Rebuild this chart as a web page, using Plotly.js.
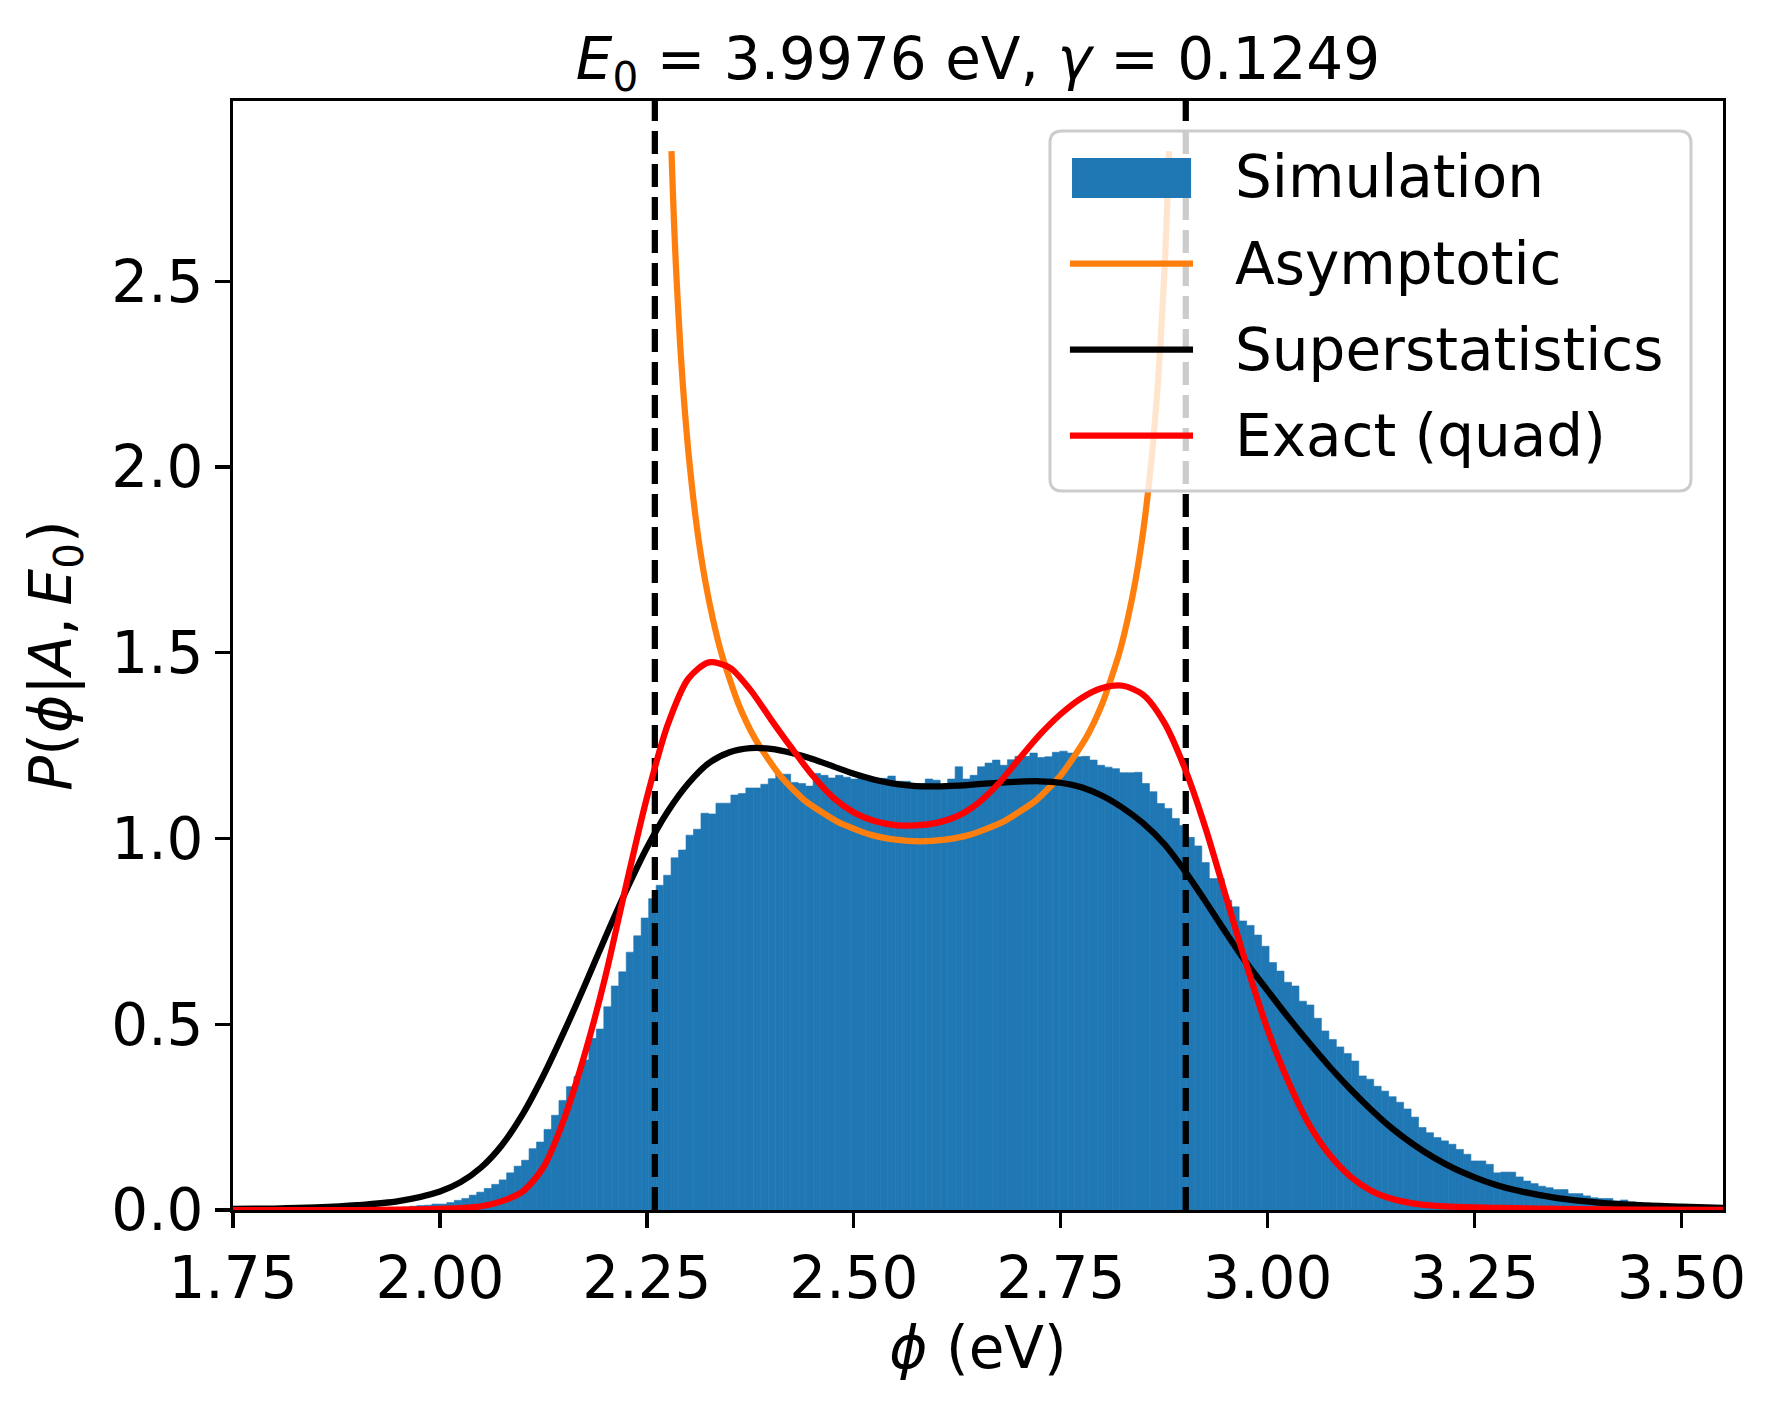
<!DOCTYPE html>
<html>
<head>
<meta charset="utf-8">
<script src="https://cdn.plot.ly/plotly-3.0.1.min.js"></script>
<style>
  html, body { margin: 0; padding: 0; background: #fff; }
  #chart { width: 1773px; height: 1403px; }
</style>
</head>
<body>
<div id="chart"></div>
<script>
// histogram of the simulation (density per bin)
var binStart = 1.9090;
var binWidth = 0.00903;
var simDensity = [
  0.002, 0.003, 0.004, 0.005, 0.006, 0.008, 0.010, 0.012, 0.013, 0.016,
  0.016, 0.020, 0.026, 0.031, 0.040, 0.048, 0.058, 0.069, 0.081, 0.100,
  0.118, 0.134, 0.165, 0.183, 0.217, 0.255, 0.295, 0.332, 0.359, 0.404,
  0.462, 0.487, 0.547, 0.603, 0.641, 0.694, 0.738, 0.786, 0.838, 0.874,
  0.901, 0.948, 0.969, 1.009, 1.025, 1.068, 1.066, 1.095, 1.095, 1.117,
  1.121, 1.136, 1.136, 1.146, 1.161, 1.173, 1.173, 1.151, 1.148, 1.141,
  1.175, 1.170, 1.163, 1.170, 1.165, 1.160, 1.165, 1.155, 1.160, 1.162,
  1.168, 1.154, 1.154, 1.148, 1.148, 1.160, 1.157, 1.146, 1.160, 1.193,
  1.160, 1.170, 1.193, 1.203, 1.211, 1.197, 1.212, 1.221, 1.221, 1.230,
  1.218, 1.220, 1.232, 1.235, 1.230, 1.220, 1.221, 1.211, 1.197, 1.192,
  1.188, 1.177, 1.177, 1.178, 1.148, 1.126, 1.094, 1.081, 1.054, 1.035,
  1.003, 0.980, 0.935, 0.892, 0.892, 0.834, 0.816, 0.778, 0.766, 0.740,
  0.710, 0.666, 0.643, 0.613, 0.603, 0.562, 0.552, 0.516, 0.482, 0.459,
  0.439, 0.421, 0.401, 0.361, 0.352, 0.333, 0.320, 0.305, 0.290, 0.272,
  0.250, 0.222, 0.208, 0.195, 0.186, 0.177, 0.163, 0.150, 0.132, 0.132,
  0.123, 0.100, 0.102, 0.102, 0.089, 0.078, 0.071, 0.064, 0.060, 0.055,
  0.055, 0.044, 0.044, 0.038, 0.033, 0.031, 0.031, 0.024, 0.027, 0.022,
  0.019, 0.019, 0.015, 0.013, 0.013, 0.011, 0.011, 0.008, 0.008, 0.006,
  0.005, 0.004, 0.003
];

// asymptotic (orange)
var asymX = [2.2797, 2.2813, 2.2833, 2.2853, 2.2903, 2.2953, 2.3003, 2.3103, 2.3203, 2.3303,
             2.3403, 2.3603, 2.3803, 2.4103, 2.4403, 2.4803, 2.5203, 2.5503, 2.5803,
             2.6103, 2.6403, 2.6803, 2.7203, 2.7503, 2.7803, 2.8003, 2.8203, 2.8303,
             2.8403, 2.8503, 2.8603, 2.8653, 2.8703, 2.8753, 2.8773, 2.8793, 2.8809];
var asymY = [2.850, 2.745, 2.631, 2.530, 2.325, 2.165, 2.036, 1.839, 1.695, 1.585,
             1.496, 1.364, 1.270, 1.171, 1.103, 1.045, 1.010, 0.997, 0.9925,
             0.997, 1.010, 1.045, 1.103, 1.171, 1.270, 1.364, 1.496, 1.585,
             1.695, 1.839, 2.036, 2.165, 2.325, 2.530, 2.631, 2.745, 2.850];

// superstatistics (black)
var superX = [1.75, 1.80, 1.85, 1.90, 1.95, 2.00, 2.025, 2.05, 2.075, 2.10,
              2.125, 2.15, 2.175, 2.20, 2.225, 2.25, 2.275, 2.30, 2.325, 2.35,
              2.375, 2.40, 2.425, 2.45, 2.475, 2.50, 2.525, 2.55, 2.575, 2.60,
              2.625, 2.65, 2.675, 2.70, 2.725, 2.75, 2.775, 2.80, 2.825, 2.85,
              2.875, 2.90, 2.925, 2.95, 2.975, 3.00, 3.025, 3.05, 3.075, 3.10,
              3.125, 3.15, 3.175, 3.20, 3.225, 3.25, 3.275, 3.30, 3.35, 3.40,
              3.45, 3.50, 3.55];
var superY = [0.003, 0.004, 0.007, 0.013, 0.024, 0.050, 0.075, 0.115, 0.175, 0.258,
              0.362, 0.480, 0.605, 0.735, 0.860, 0.975, 1.072, 1.148, 1.203, 1.232,
              1.243, 1.241, 1.230, 1.214, 1.194, 1.174, 1.158, 1.147, 1.141, 1.140,
              1.142, 1.146, 1.150, 1.153, 1.154, 1.150, 1.138, 1.115, 1.082, 1.040,
              0.985, 0.912, 0.830, 0.745, 0.663, 0.590, 0.518, 0.450, 0.385, 0.325,
              0.270, 0.220, 0.178, 0.142, 0.112, 0.088, 0.068, 0.053, 0.032, 0.020,
              0.013, 0.009, 0.006];

// exact quadrature (red)
var exactX = [1.75, 1.80, 1.85, 1.90, 1.95, 2.00, 2.025, 2.05, 2.075, 2.10,
              2.125, 2.15, 2.175, 2.20, 2.225, 2.25, 2.275, 2.30, 2.325, 2.35,
              2.375, 2.40, 2.425, 2.45, 2.475, 2.50, 2.525, 2.55, 2.575, 2.60,
              2.625, 2.65, 2.675, 2.70, 2.725, 2.75, 2.775, 2.80, 2.825, 2.85,
              2.875, 2.90, 2.925, 2.95, 2.975, 3.00, 3.025, 3.05, 3.075, 3.10,
              3.125, 3.15, 3.175, 3.20, 3.25, 3.30, 3.35, 3.45, 3.55];
var exactY = [0.000, 0.000, 0.000, 0.000, 0.001, 0.003, 0.005, 0.010, 0.024, 0.050,
              0.115, 0.245, 0.420, 0.630, 0.875, 1.110, 1.305, 1.430, 1.474, 1.460,
              1.400, 1.320, 1.243, 1.170, 1.110, 1.070, 1.047, 1.036, 1.035, 1.042,
              1.060, 1.095, 1.148, 1.215, 1.280, 1.335, 1.378, 1.405, 1.411, 1.386,
              1.312, 1.188, 1.027, 0.840, 0.655, 0.485, 0.345, 0.230, 0.148, 0.090,
              0.052, 0.030, 0.018, 0.012, 0.007, 0.005, 0.003, 0.001, 0.000];

// support bounds (dashed)
var boundX = [2.2596, 2.9010];

var xTicks = [1.75, 2.00, 2.25, 2.50, 2.75, 3.00, 3.25, 3.50];
var yTicks = [0.0, 0.5, 1.0, 1.5, 2.0, 2.5];
var xRange = [1.75, 3.55];
var yRange = [0, 2.985];

var legendNames = ["Simulation", "Asymptotic", "Superstatistics", "Exact (quad)"];
var legendColors = ["#1f77b4", "#ff7f0e", "#000000", "#ff0000"];

var FONT = "DejaVu Sans, sans-serif";
var FS = 58;

var binCenters = simDensity.map(function (_, i) { return binStart + (i + 0.5) * binWidth; });

var traces = [
  {
    type: "bar", x: binCenters, y: simDensity, width: binWidth,
    marker: { color: "#1f77b4", line: { width: 0.6, color: "#1f77b4" } },
    showlegend: false
  }
];
boundX.forEach(function (b) {
  traces.push({
    type: "scatter", mode: "lines", x: [b, b], y: yRange,
    line: { color: "#000000", width: 6.25, dash: "23px,10px" },
    showlegend: false
  });
});
traces.push({
  type: "scatter", mode: "lines", x: asymX, y: asymY,
  line: { color: "#ff7f0e", width: 6.25, shape: "spline", smoothing: 0.6 },
  showlegend: false
});
traces.push({
  type: "scatter", mode: "lines", x: superX, y: superY,
  line: { color: "#000000", width: 6.25, shape: "spline", smoothing: 0.8 },
  showlegend: false
});
traces.push({
  type: "scatter", mode: "lines", x: exactX, y: exactY,
  line: { color: "#ff0000", width: 6.25, shape: "spline", smoothing: 0.8 },
  showlegend: false
});

// legend drawn by hand (matplotlib look)
var lx0 = 0.5483, lx1 = 0.9785, ly0 = 0.6483, ly1 = 0.9730, rx = 0.0081, ry = 0.0108;
var boxPath = "M" + (lx0 + rx) + "," + ly1 + " L" + (lx1 - rx) + "," + ly1 +
  " Q" + lx1 + "," + ly1 + " " + lx1 + "," + (ly1 - ry) +
  " L" + lx1 + "," + (ly0 + ry) +
  " Q" + lx1 + "," + ly0 + " " + (lx1 - rx) + "," + ly0 +
  " L" + (lx0 + rx) + "," + ly0 +
  " Q" + lx0 + "," + ly0 + " " + lx0 + "," + (ly0 + ry) +
  " L" + lx0 + "," + (ly1 - ry) +
  " Q" + lx0 + "," + ly1 + " " + (lx0 + rx) + "," + ly1 + " Z";

var rowY = [0.9312, 0.8533, 0.7757, 0.6982];
var shapes = [
  { type: "path", xref: "paper", yref: "paper", path: boxPath,
    fillcolor: "rgba(255,255,255,0.8)", line: { color: "#cccccc", width: 3 }, layer: "above" },
  { type: "rect", xref: "paper", yref: "paper", x0: 0.5631, x1: 0.6430, y0: 0.9125, y1: 0.9486,
    fillcolor: legendColors[0], line: { width: 0 }, layer: "above" }
];
for (var i = 1; i < 4; i++) {
  shapes.push({ type: "line", xref: "paper", yref: "paper", x0: 0.5617, x1: 0.6443,
    y0: rowY[i], y1: rowY[i], line: { color: legendColors[i], width: 6.25 }, layer: "above" });
}
var annotations = legendNames.map(function (name, i) {
  return { xref: "paper", yref: "paper", x: 0.671, y: rowY[i], xanchor: "left", yanchor: "middle",
    text: name, showarrow: false, font: { family: FONT, size: FS, color: "#000" } };
});

var axisCommon = {
  showgrid: false, zeroline: false, showline: true, mirror: true,
  linecolor: "#000", linewidth: 3.3, ticks: "outside", ticklen: 14.6, tickwidth: 3.3,
  tickcolor: "#000", tickfont: { family: FONT, size: FS, color: "#000" }
};

var layout = {
  width: 1773, height: 1403,
  margin: { l: 233, r: 50, t: 101, b: 193, pad: 0 },
  paper_bgcolor: "#fff", plot_bgcolor: "#fff",
  bargap: 0, showlegend: false,
  font: { family: FONT, size: FS, color: "#000" },
  title: {
    text: "<i>E</i><sub>0</sub> = 3.9976 eV, <i>γ</i> = 0.1249",
    font: { family: FONT, size: FS, color: "#000" },
    x: 0.5, xref: "paper", xanchor: "center",
    y: 0.958, yref: "container", yanchor: "middle"
  },
  xaxis: Object.assign({}, axisCommon, {
    range: xRange, tickvals: xTicks, ticktext: xTicks.map(function (v) { return v.toFixed(2); }),
    title: { text: "<i>ϕ</i> (eV)", font: { family: FONT, size: FS, color: "#000" }, standoff: 18 }
  }),
  yaxis: Object.assign({}, axisCommon, {
    range: yRange, tickvals: yTicks, ticktext: yTicks.map(function (v) { return v.toFixed(1); }),
    title: { text: "<i>P</i>(<i>ϕ</i>|<i>A</i>,&#8201;<i>E</i><sub>0</sub>)", font: { family: FONT, size: FS, color: "#000" }, standoff: 22 }
  }),
  shapes: shapes,
  annotations: annotations
};

Plotly.newPlot("chart", traces, layout, { staticPlot: true, displayModeBar: false });
</script>
</body>
</html>
